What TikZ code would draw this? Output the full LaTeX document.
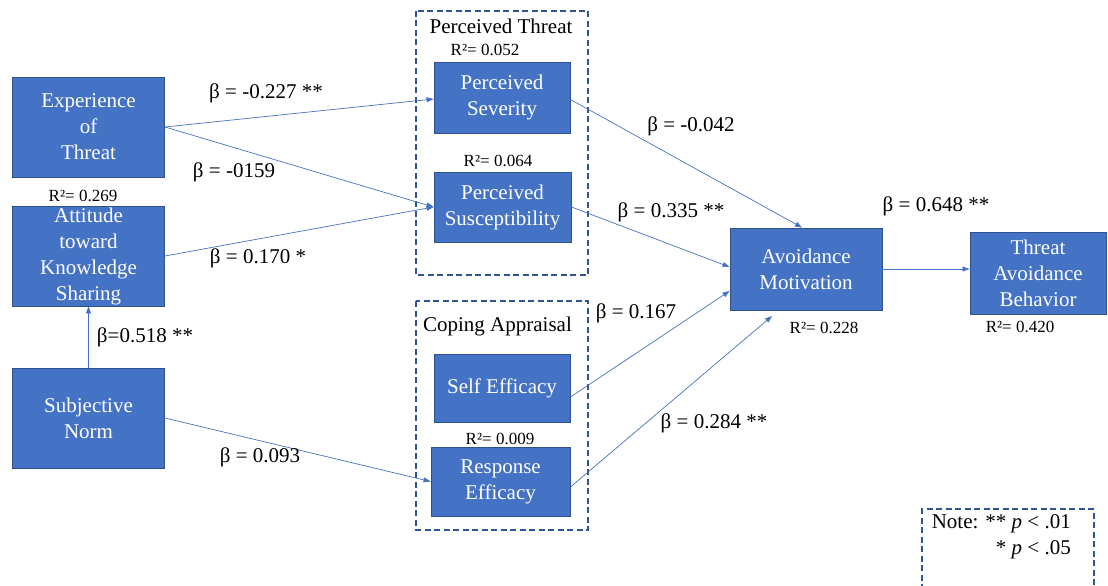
\documentclass[tikz,border=0pt]{standalone}
\usepackage{fontspec}
\setmainfont{Liberation Serif}
\usetikzlibrary{arrows.meta}
\definecolor{boxblue}{HTML}{4472C4}
\definecolor{boxedge}{HTML}{2F528F}
\definecolor{grpedge}{HTML}{2F5597}
\tikzset{
  var/.style={rectangle, fill=boxblue, draw=boxedge, line width=0.9pt, text=white, align=center,
    inner sep=0pt, font=\fontsize{21}{26}\selectfont},
  path/.style={draw=boxblue, line width=0.7pt, -{Triangle[length=7pt,width=5pt]}},
  beta/.style={font=\fontsize{21}{26}\selectfont, inner sep=0pt},
  rsq/.style={font=\fontsize{17}{20}\selectfont, inner sep=0pt},
  grp/.style={draw=grpedge, line width=1.3pt, dash pattern=on 6pt off 3.5pt},
  grptitle/.style={font=\fontsize{21}{26}\selectfont, inner sep=0pt},
}
\begin{document}
\begin{tikzpicture}[x=1pt,y=-1pt]
\useasboundingbox (0,0) rectangle (1108,586);
% groups
\draw[grp] (416,11) rectangle (588,275);
\draw[grp] (416,301) rectangle (588,530);
\draw[grp] (922,590) -- (922,509) -- (1094,509) -- (1094,590);
\node[grptitle] (ptt) at (501,26) {Perceived Threat};
\node[grptitle] (cat) at (497.5,326) {Coping Appraisal};
% variables
\node[var, minimum width=152pt, minimum height=100pt] (exp) at (88.5,127) {Experience\\of\\Threat};
\node[var, minimum width=152pt, minimum height=100pt] (att) at (88.5,256) {Attitude\\toward\\Knowledge\\Sharing};
\node[var, minimum width=152pt, minimum height=100pt] (subj) at (88.5,418) {Subjective\\Norm};
\node[var, minimum width=136pt, minimum height=71pt] (sev) at (502,97.5) {Perceived\\Severity};
\node[var, minimum width=137pt, minimum height=70pt] (sus) at (502.5,207) {Perceived\\Susceptibility};
\node[var, minimum width=136pt, minimum height=68pt] (self) at (502,388) {Self Efficacy};
\node[var, minimum width=139pt, minimum height=69pt] (resp) at (500.5,481.5) {Response\\Efficacy};
\node[var, minimum width=152pt, minimum height=82pt] (avm) at (806,269) {Avoidance\\Motivation};
\node[var, minimum width=136pt, minimum height=82pt] (tab) at (1038,273) {Threat\\Avoidance\\Behavior};
% R squared
\node[rsq] (r1) at (485,50) {R²= 0.052};
\node[rsq] (r2) at (498,161) {R²= 0.064};
\node[rsq] (r3) at (83,196) {R²= 0.269};
\node[rsq] (r4) at (500,439) {R²= 0.009};
\node[rsq] (r5) at (824,328) {R²= 0.228};
\node[rsq] (r6) at (1020,327) {R²= 0.420};
% connectors
\coordinate (respend) at (772,316);
\draw[path] (exp.east) -- ([yshift=-1.5pt]sev.west);
\draw[path] (exp.east) -- (sus.west);
\draw[path] (att.east) -- (sus.west);
\draw[path] (subj.north) -- (att.south);
\draw[path] (subj.east) -- (resp.west);
\draw[path] ([yshift=-2pt]sev.east) -- ([xshift=-4pt]avm.north);
\draw[path] (sus.east) -- ([yshift=2pt]avm.west);
\draw[path] ([yshift=-9pt]self.east) -- ([yshift=-22pt]avm.west);
\draw[path] ([yshift=-5.5pt]resp.east) -- (respend);
\draw[path] (avm.east) -- (avm.east -| tab.west);
% betas
\node[beta] (b1) at (266,93) {β = -0.227 **};
\node[beta] (b2) at (234,172) {β = -0159};
\node[beta] (b3) at (258,258) {β = 0.170 *};
\node[beta] (b4) at (145,337) {β=0.518 **};
\node[beta] (b5) at (260,457) {β = 0.093};
\node[beta] (b6) at (691,126) {β = -0.042};
\node[beta] (b7) at (671,212) {β = 0.335 **};
\node[beta] (b8) at (936,206) {β = 0.648 **};
\node[beta] (b9) at (636,313) {β = 0.167};
\node[beta] (b10) at (714,423) {β = 0.284 **};
% note
\node[beta, anchor=east, align=right] (note) at (1071,537) {Note: ** \textit{p} < .01\\* \textit{p} < .05};
\end{tikzpicture}
\end{document}
